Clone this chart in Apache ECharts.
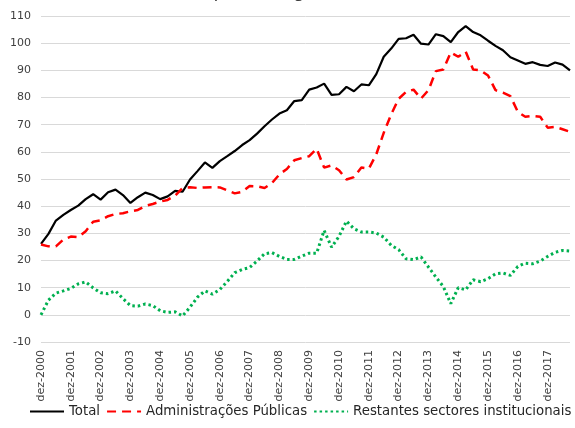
<!DOCTYPE html>
<html>
<head>
<meta charset="utf-8">
<script src="https://cdn.jsdelivr.net/npm/echarts@6/dist/echarts.min.js"></script>
<style>
  html, body { margin: 0; padding: 0; background: #fff; }
  #chart { width: 575px; height: 428px; }
</style>
</head>
<body>
<div id="chart"></div>
<script>
// trimestres de dez-2000 a set-2018
const meses = ['dez', 'mar', 'jun', 'set'];
const categorias = [];
for (let i = 0; i < 72; i++) {
  const ano = 2000 + Math.ceil(i / 4);
  categorias.push(meses[i % 4] + '-' + ano);
}

const total = [
  26.1, 29.8, 34.7, 36.8, 38.6, 40.2, 42.6, 44.4, 42.4, 45.1,
  46.1, 44.1, 41.2, 43.3, 45.0, 44.1, 42.6, 43.6, 45.6, 45.3,
  49.8, 52.9, 56.1, 54.1, 56.6, 58.4, 60.3, 62.5, 64.3, 66.7,
  69.4, 71.9, 74.1, 75.3, 78.7, 79.0, 82.9, 83.7, 85.1, 81.0,
  81.2, 83.9, 82.3, 84.8, 84.5, 88.6, 95.0, 98.0, 101.6, 101.8,
  103.1, 99.8, 99.5, 103.3, 102.6, 100.4, 104.1, 106.3, 104.1, 102.9,
  100.9, 99.0, 97.4, 94.8, 93.6, 92.4, 93.0, 92.0, 91.6, 92.9,
  92.1, 90.0
];

const adminPublicas = [
  25.9, 25.2, 25.2, 27.7, 28.8, 28.6, 30.8, 34.3, 34.8, 36.3,
  37.1, 37.4, 38.1, 38.6, 40.1, 40.8, 41.7, 42.3, 43.9, 46.7,
  47.0, 46.7, 46.9, 47.0, 46.9, 45.8, 44.7, 45.3, 47.4, 47.3,
  46.7, 48.5, 51.7, 53.7, 56.9, 57.7, 58.4, 61.1, 54.2, 55.0,
  53.2, 49.8, 50.7, 54.2, 53.8, 59.1, 67.0, 73.8, 79.5, 82.1,
  82.9, 79.6, 82.7, 89.7, 90.3, 96.6, 95.0, 96.9, 90.3, 90.0,
  88.1, 82.7, 81.8, 80.5, 74.7, 72.9, 73.2, 72.9, 68.9, 69.2,
  68.3, 67.4
];

const restantes = [
  0.0, 5.4, 8.0, 8.8, 9.7, 11.4, 12.1, 9.9, 8.1, 7.8,
  8.8, 6.0, 3.4, 3.2, 4.0, 3.4, 1.5, 0.9, 1.1, -0.4,
  2.8, 6.5, 8.8, 7.6, 9.3, 12.3, 15.5, 16.7, 17.4, 19.8,
  22.5, 22.9, 21.5, 20.4, 20.4, 21.6, 22.7, 22.7, 31.1, 24.9,
  28.9, 34.5, 31.7, 30.5, 30.5, 30.1, 28.6, 25.6, 24.0, 20.6,
  20.3, 21.3, 17.6, 13.9, 10.4, 4.1, 10.0, 9.2, 12.9, 12.2,
  13.3, 15.1, 15.4, 14.5, 17.8, 19.0, 18.8, 19.8, 21.5, 23.0,
  23.7, 23.5
];

const fonte = 'DejaVu Sans';
const chart = echarts.init(document.getElementById('chart'));

chart.setOption({
  animation: false,
  textStyle: { fontFamily: fonte },
  graphic: [
    {
      // título cortado no topo, só se vêem as partes de baixo
      type: 'text',
      left: 'center',
      top: -17,
      style: {
        text: '(em percentagem do PIB)',
        font: '18px "DejaVu Sans"',
        fill: '#404040'
      }
    }
  ],
  grid: {
    left: 41,
    right: 5,
    top: 16,
    bottom: 86,
    containLabel: false
  },
  legend: {
    left: 24,
    bottom: 5,
    width: 560,
    itemWidth: 34,
    itemHeight: 10,
    itemGap: 6,
    itemStyle: { opacity: 0 },
    textStyle: { fontSize: 13.3, color: '#262626', fontFamily: fonte },
    data: ['Total', 'Administrações Públicas', 'Restantes sectores institucionais']
  },
  xAxis: {
    type: 'category',
    data: categorias,
    boundaryGap: false,
    axisLine: { show: false },
    axisTick: { show: false },
    axisLabel: {
      interval: 3,
      rotate: 90,
      margin: 8,
      fontSize: 11,
      color: '#404040'
    },
    splitLine: { show: false }
  },
  yAxis: {
    type: 'value',
    min: -10,
    max: 110,
    interval: 10,
    axisLine: { show: false },
    axisTick: { show: false },
    axisLabel: { fontSize: 11, color: '#404040', margin: 10 },
    splitLine: { lineStyle: { color: '#d9d9d9', width: 1 } }
  },
  series: [
    {
      name: 'Total',
      type: 'line',
      data: total,
      symbol: 'none',
      lineStyle: { color: '#000000', width: 2.2 },
      itemStyle: { color: '#000000' }
    },
    {
      name: 'Administrações Públicas',
      type: 'line',
      data: adminPublicas,
      symbol: 'none',
      lineStyle: { color: '#ff0000', width: 2.5, type: [9, 6] },
      itemStyle: { color: '#ff0000' }
    },
    {
      name: 'Restantes sectores institucionais',
      type: 'line',
      data: restantes,
      symbol: 'none',
      lineStyle: { color: '#00b050', width: 3, type: [2.5, 3] },
      itemStyle: { color: '#00b050' }
    }
  ]
});
</script>
</body>
</html>
